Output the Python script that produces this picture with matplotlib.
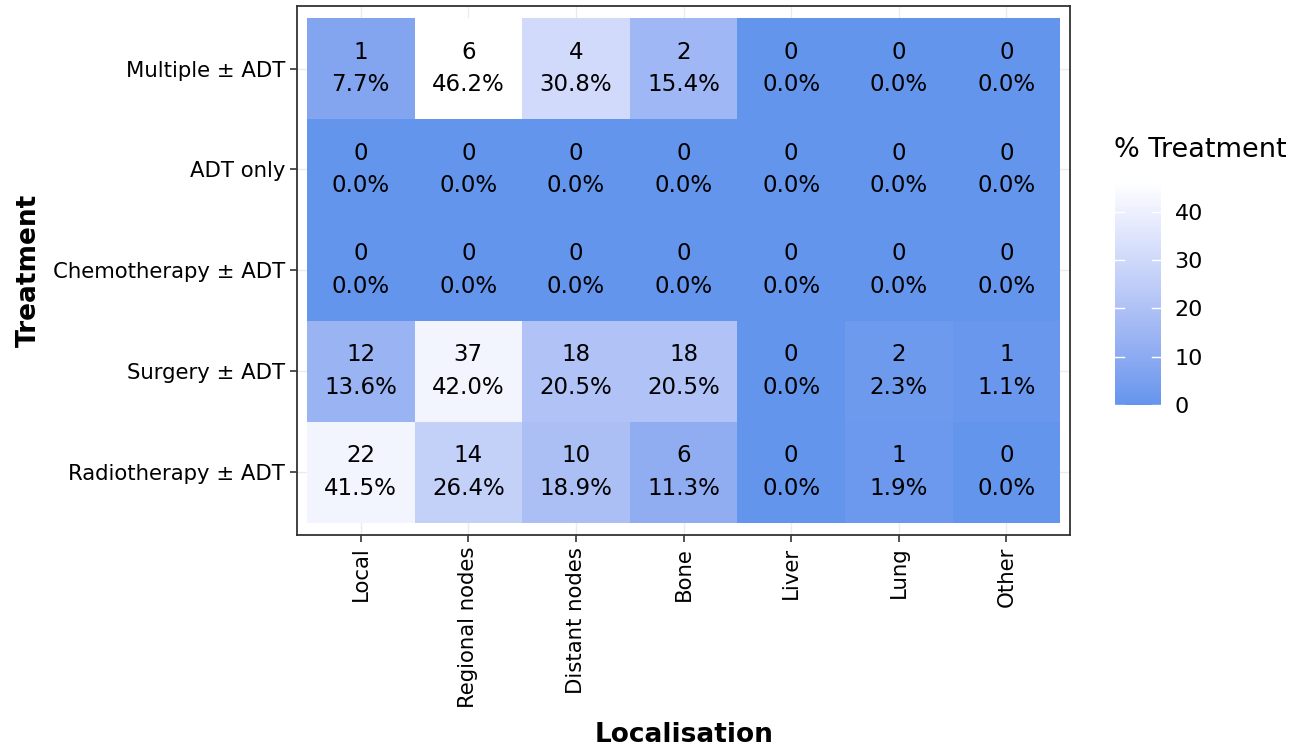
import numpy as np
import matplotlib.pyplot as plt
from matplotlib.colors import ListedColormap, to_rgb

# data
localisations = ["Local", "Regional nodes", "Distant nodes", "Bone", "Liver", "Lung", "Other"]
treatments = ["Radiotherapy ± ADT", "Surgery ± ADT", "Chemotherapy ± ADT", "ADT only", "Multiple ± ADT"]
counts_radio = [22, 14, 10, 6, 0, 1, 0]
counts_surgery = [12, 37, 18, 18, 0, 2, 1]
counts_chemo = [0, 0, 0, 0, 0, 0, 0]
counts_adt = [0, 0, 0, 0, 0, 0, 0]
counts_multiple = [1, 6, 4, 2, 0, 0, 0]

counts = np.array([counts_radio, counts_surgery, counts_chemo, counts_adt, counts_multiple])
totals = counts.sum(axis=1)
pct = np.zeros(counts.shape)
for i in range(len(treatments)):
    if totals[i] > 0:
        pct[i] = counts[i] / totals[i] * 100


# gradient in Lab space, like ggplot's scale_fill_gradient
M = np.array([[0.4124, 0.3576, 0.1805], [0.2126, 0.7152, 0.0722], [0.0193, 0.1192, 0.9505]])
WP = np.array([0.95047, 1.0, 1.08883])


def rgb2lab(c):
    c = np.array(c)
    lin = np.where(c <= 0.04045, c / 12.92, ((c + 0.055) / 1.055) ** 2.4)
    xyz = M @ lin / WP
    f = np.where(xyz > 0.008856, np.cbrt(xyz), 7.787 * xyz + 16 / 116)
    return np.array([116 * f[1] - 16, 500 * (f[0] - f[1]), 200 * (f[1] - f[2])])


def lab2rgb(lab):
    fy = (lab[0] + 16) / 116
    fx = fy + lab[1] / 500
    fz = fy - lab[2] / 200
    f = np.array([fx, fy, fz])
    xyz = np.where(f ** 3 > 0.008856, f ** 3, (f - 16 / 116) / 7.787) * WP
    lin = np.linalg.solve(M, xyz)
    c = np.where(lin <= 0.0031308, 12.92 * lin, 1.055 * np.clip(lin, 0, None) ** (1 / 2.4) - 0.055)
    return np.clip(c, 0, 1)


lo = rgb2lab(to_rgb("#6495ED"))
hi = rgb2lab(to_rgb("#FFFFFF"))
cmap = ListedColormap([lab2rgb(lo + (hi - lo) * t) for t in np.linspace(0, 1, 256)])

fig = plt.figure(figsize=(12.91, 7.46), dpi=100)
ax = fig.add_axes([0.230, 0.283, 0.599, 0.709])

ax.set_xticks(range(len(localisations)))
ax.set_yticks(range(len(treatments)))
ax.grid(True, color="#EBEBEB", linewidth=1)
ax.set_axisbelow(True)

vmax = pct.max()
im = ax.pcolormesh(np.arange(len(localisations) + 1) - 0.5, np.arange(len(treatments) + 1) - 0.5,
                   pct, cmap=cmap, vmin=0, vmax=vmax, zorder=2)

for i in range(len(treatments)):
    for j in range(len(localisations)):
        ax.text(j, i, "%d\n%.1f%%" % (counts[i, j], pct[i, j]), ha="center", va="center",
                fontsize=16.5, linespacing=1.55, color="black", zorder=3)

ax.set_xlim(-0.593, len(localisations) - 0.407)
ax.set_ylim(-0.62, len(treatments) - 0.38)
ax.set_xticklabels(localisations, rotation=90, fontsize=15.3)
ax.set_yticklabels(treatments, fontsize=15.3)
ax.tick_params(length=5, width=1.2, color="#333333")
for s in ax.spines.values():
    s.set_color("#333333")
    s.set_linewidth(1.3)
ax.set_xlabel("Localisation", fontsize=19, fontweight="bold", labelpad=10)
ax.set_ylabel("Treatment", fontsize=19, fontweight="bold", labelpad=8)

cax = fig.add_axes([0.864, 0.457, 0.035, 0.299])
cb = fig.colorbar(im, cax=cax, ticks=[0, 10, 20, 30, 40])
cb.outline.set_visible(False)
cax.tick_params(length=0, labelsize=16, pad=10)
for t in [0, 10, 20, 30, 40]:
    cax.plot([0, 0.2], [t, t], color="white", linewidth=1, transform=cax.get_yaxis_transform())
    cax.plot([0.8, 1], [t, t], color="white", linewidth=1, transform=cax.get_yaxis_transform())
fig.text(0.863, 0.781, "% Treatment", fontsize=19.5, ha="left", va="bottom")

fig.savefig("out.png", dpi=100)
